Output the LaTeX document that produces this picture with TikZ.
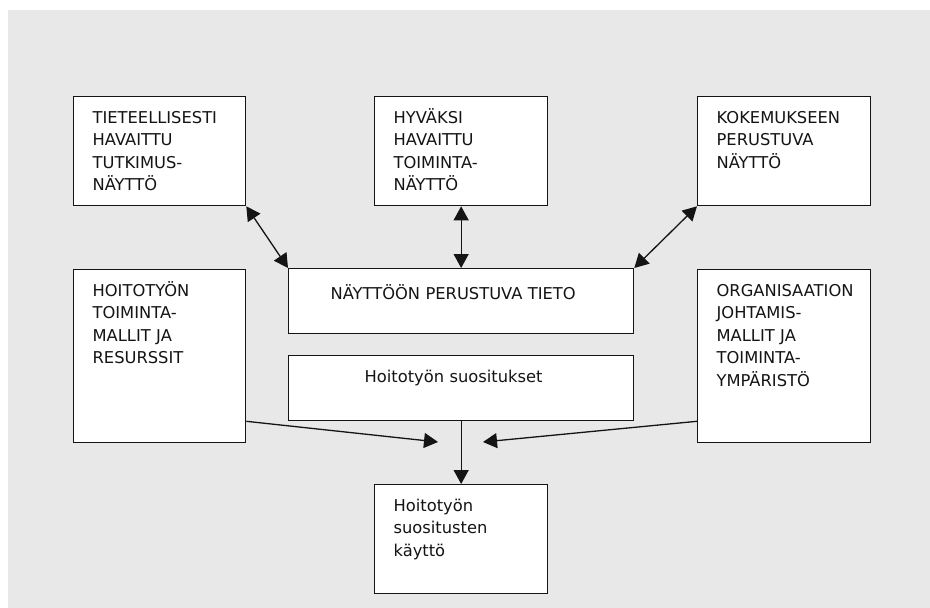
\documentclass[tikz,border=0pt]{standalone}
\usepackage{fontspec}
\setmainfont{DejaVu Sans}
\usetikzlibrary{arrows.meta}
\definecolor{bg}{HTML}{E8E8E8}
\definecolor{ink}{HTML}{141414}
\hyphenpenalty=10000

\begin{document}
\begin{tikzpicture}[x=1pt, y=-1pt, line width=1.3pt, >={Triangle[length=14pt,width=15pt]},
  main/.style = {draw=ink, fill=white, anchor=north west, align=left, inner xsep=19pt, inner ysep=14.5pt, text height=11.9pt, text=ink, font=\fontsize{16.3}{22.5}\selectfont}]
\useasboundingbox (0,0) rectangle (930,608);
\fill[bg] (8,10) rectangle (930,608);
\node[main, text width=134pt, text depth=68.1pt] (1) at (73,96) {TIETEELLISESTI\\HAVAITTU\\TUTKIMUS-\\NÄYTTÖ};
\node[main, text width=135pt, text depth=68.1pt] (2) at (374,96) {HYVÄKSI\\HAVAITTU\\TOIMINTA-\\NÄYTTÖ};
\node[main, text width=135pt, text depth=68.1pt] (3) at (697,96) {KOKEMUKSEEN\\PERUSTUVA\\NÄYTTÖ};
\node[main, text width=134pt, text depth=132.1pt] (4) at (73,269) {HOITOTYÖN\\TOIMINTA-\\MALLIT JA\\RESURSSIT};
\node[main, text width=135pt, text depth=132.1pt] (5) at (697,269) {ORGANISAATION\\JOHTAMIS-\\MALLIT JA\\TOIMINTA-\\YMPÄRISTÖ};
\node[main, inner xsep=42pt, inner ysep=18.7pt, text width=261pt, text depth=15.7pt] (6) at (288,268) {NÄYTTÖÖN PERUSTUVA TIETO};
\node[main, inner xsep=76pt, inner ysep=15pt, text width=193pt, text depth=23.1pt] (7) at (288,355) {Hoitotyön suositukset};
\node[main, text width=135pt, text depth=67.6pt] (8) at (374,484) {Hoitotyön\\suositusten\\käyttö};
\coordinate (l) at (438,442);
\coordinate (r) at (483,442);
\draw[<->, ink] (1.south east) -- (6.north west);
\draw[<->, ink] (2.south) -- (6.north);
\draw[<->, ink] (3.south west) -- (6.north east);
\draw[->, ink] (7.south) -- (8.north);
\draw[->, ink] (4.east |- 7.south) -- (l);
\draw[->, ink] (5.west |- 7.south) -- (r);
\end{tikzpicture}
\end{document}
